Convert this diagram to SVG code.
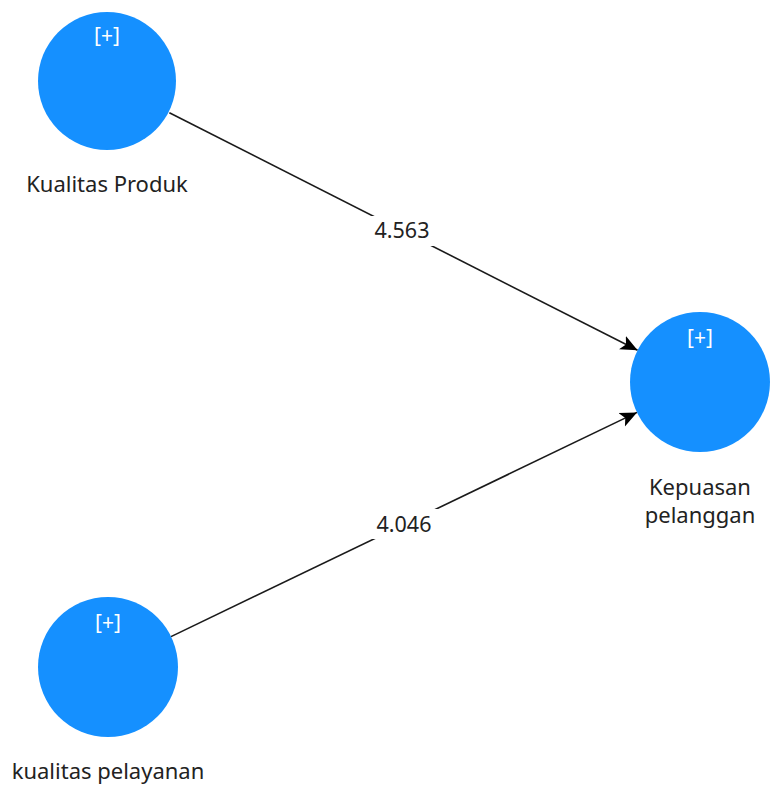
<svg xmlns="http://www.w3.org/2000/svg" width="773" height="787" viewBox="0 0 773 787">
<style>
.node{fill:#1590ff;}
.plus{fill:#ffffff;font-family:"Noto Sans","Open Sans",sans-serif;font-size:21px;text-anchor:middle;}
.lbl{fill:#222222;font-family:"Noto Sans","Open Sans",sans-serif;font-size:22px;text-anchor:middle;}
.edge{stroke:#1a1a1a;stroke-width:1.6;fill:none;}
.wlbl{fill:#222222;font-family:"Noto Sans","Open Sans",sans-serif;font-size:21.5px;text-anchor:middle;}
</style>
<defs>
<marker id="arr" markerUnits="userSpaceOnUse" markerWidth="20" markerHeight="16" refX="17" refY="8" orient="auto">
<path d="M0,0.5 L17,8 L0,15.5 L4,8 Z" fill="#000"/>
</marker>
</defs>
<rect width="773" height="787" fill="#ffffff"/>
<g id="connectors">
<line class="edge" x1="169.4" y1="112.7" x2="637.6" y2="350.3" marker-end="url(#arr)"/>
<line class="edge" x1="171" y1="636.6" x2="637" y2="412.4" marker-end="url(#arr)"/>
<rect x="366" y="216" width="72" height="30" fill="#ffffff"/>
<text class="wlbl" x="402" y="238">4.563</text>
<rect x="368" y="509" width="72" height="30" fill="#ffffff"/>
<text class="wlbl" x="404" y="532">4.046</text>
</g>
<g id="kualitas-produk">
<circle class="node" cx="107" cy="81" r="69"/>
<text class="plus" x="107" y="43">[+]</text>
<text class="lbl" x="107" y="192">Kualitas Produk</text>
</g>
<g id="kepuasan-pelanggan">
<circle class="node" cx="700" cy="382" r="70"/>
<text class="plus" x="700" y="345">[+]</text>
<text class="lbl" x="700" y="495">Kepuasan</text>
<text class="lbl" x="700" y="523">pelanggan</text>
</g>
<g id="kualitas-pelayanan">
<circle class="node" cx="108" cy="667" r="70"/>
<text class="plus" x="108" y="630">[+]</text>
<text class="lbl" x="108" y="779">kualitas pelayanan</text>
</g>
</svg>
